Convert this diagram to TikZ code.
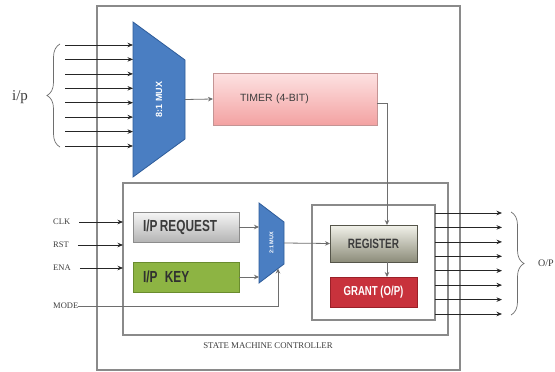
\documentclass[tikz,border=0pt]{standalone}
\usepackage{fontspec}
\setmainfont{Liberation Serif}
\newfontfamily\boxfont{Liberation Sans}
\usetikzlibrary{arrows.meta,decorations.pathreplacing,calc,shadows}

\definecolor{muxblue}{HTML}{4A7EC2}
\definecolor{muxedge}{HTML}{2E5C9A}
\definecolor{timertop}{HTML}{FDE2E2}
\definecolor{timerbot}{HTML}{F3A2A2}
\definecolor{timeredge}{HTML}{C49494}
\definecolor{reqtop}{HTML}{F6F6F6}
\definecolor{reqbot}{HTML}{B4B4B4}
\definecolor{reqedge}{HTML}{8C8C8C}
\definecolor{keygreen}{HTML}{8DB443}
\definecolor{keyedge}{HTML}{6A8C2E}
\definecolor{regtop}{HTML}{F2F2EA}
\definecolor{regbot}{HTML}{8C8C7A}
\definecolor{regedge}{HTML}{55554A}
\definecolor{grantred}{HTML}{C8323C}
\definecolor{grantedge}{HTML}{9A2028}
\definecolor{framegray}{HTML}{8A8A8A}
\definecolor{wiregray}{HTML}{6E6E6E}
\definecolor{labelgray}{HTML}{3C3C3C}

\tikzset{
  frame/.style={draw=framegray, line width=1.4pt, inner sep=0pt, outer sep=0pt},
  block/.style={inner sep=0pt, outer sep=0pt, line width=0.9pt,
    drop shadow={shadow xshift=1.2pt, shadow yshift=-1.2pt, opacity=0.25}},
  ghost/.style={inner sep=0pt, outer sep=0pt},
  inarrow/.style={draw=black!85, line width=0.7pt, -{Stealth[length=5.5pt,width=4.5pt]}},
  intarrow/.style={draw=wiregray, line width=0.8pt, -{Stealth[length=5pt,width=4.5pt]}},
  pinlabel/.style={font=\fontsize{8.5}{9}\selectfont, text=labelgray, inner sep=0pt, anchor=west},
  brc/.style={draw=wiregray, line width=0.7pt, decorate,
    decoration={brace, amplitude=13pt}},
}

% tall, narrow sans lettering used inside the blocks
\newcommand{\condensed}[2]{\scalebox{0.74}[1]{\boxfont\bfseries\fontsize{#1}{#1}\selectfont #2}}

\begin{document}
\begin{tikzpicture}[x=1pt, y=-1pt]
  \useasboundingbox (0,0) rectangle (555,372);

  % frames
  \node[frame, minimum width=363pt, minimum height=364pt] (outer) at (278.5,188) {};
  \node[frame, minimum width=325pt, minimum height=152pt] (inner) at (285.5,259) {};
  \node[frame, minimum width=123pt, minimum height=115pt] (reggrp) at (373.5,262.5) {};

  % 8:1 multiplexer
  \node[ghost, minimum width=52pt, minimum height=155pt] (mux8) at (159,99.5) {};
  \fill[muxblue, draw=muxedge, line width=0.8pt]
    (mux8.north west) -- ($(mux8.north east)+(0,38)$)
    -- ($(mux8.south east)+(0,-38)$) -- (mux8.south west) -- cycle;
  \node[rotate=90, text=white, font=\boxfont\bfseries\fontsize{9}{9}\selectfont] (mux8txt)
    at (mux8.center) {8:1 MUX};

  % 2:1 multiplexer
  \node[ghost, minimum width=25pt, minimum height=80pt] (mux2) at (271.5,243) {};
  \fill[muxblue, draw=muxedge, line width=0.8pt]
    (mux2.north west) -- ($(mux2.north east)+(0,19)$)
    -- ($(mux2.south east)+(0,-19)$) -- (mux2.south west) -- cycle;
  \node[rotate=90, text=white, font=\boxfont\bfseries\fontsize{5.5}{6}\selectfont] (mux2txt)
    at (mux2.center) {2:1 MUX};
  \coordinate (mux2sel) at ($(mux2.south east)+(-6,-14.5)$);

  % timer
  \node[block, draw=timeredge, top color=timertop, bottom color=timerbot,
        minimum width=164pt, minimum height=52pt, text width=110pt, align=left,
        inner xsep=27pt, text=labelgray,
        font=\boxfont\fontsize{10.5}{11}\selectfont] (timer) at (295,99) {TIMER (4-BIT)};

  % request and key blocks
  \node[block, draw=reqedge, top color=reqtop, bottom color=reqbot,
        minimum width=106pt, minimum height=30pt, text width=86pt, inner xsep=10pt,
        align=left, text=labelgray] (request) at (186,227) {\condensed{16}{I/P REQUEST}};
  \node[block, draw=keyedge, fill=keygreen,
        minimum width=106pt, minimum height=30pt, text width=86pt, inner xsep=10pt,
        align=left, text=labelgray!80!black] (key) at (186,277) {\condensed{16}{I/P\ \ \ KEY}};

  % register and grant
  \node[block, draw=regedge, top color=regtop, bottom color=regbot,
        minimum width=87pt, minimum height=37pt, text=labelgray]
        (register) at (373.5,243.5) {\condensed{13.5}{REGISTER}};
  \node[block, draw=grantedge, fill=grantred,
        minimum width=87pt, minimum height=30pt, text=white]
        (grant) at (373.5,292) {\condensed{13}{GRANT (O/P)}};

  \node[font=\fontsize{8.8}{9}\selectfont, text=labelgray, inner sep=0pt]
    (smc) at (268,346) {STATE MACHINE CONTROLLER};

  % parallel inputs into the 8:1 mux
  \foreach \i/\y in {1/45,2/59.4,3/73.9,4/88.3,5/102.7,6/117.1,7/131.6,8/146}{
    \coordinate (in\i) at (65,\y);
    \draw[inarrow] (in\i) -- (in\i -| mux8.west);
  }
  \draw[brc] (60,147) -- (60,44);
  \node[font=\fontsize{15}{15}\selectfont, text=labelgray, inner sep=0pt] (ip) at (20,97) {i/p};

  % parallel outputs from the register group
  \foreach \i/\y in {1/213,2/227.4,3/241.9,4/256.3,5/270.7,6/285.1,7/299.6,8/314}{
    \coordinate (out\i) at (502,\y);
    \draw[inarrow] (out\i -| reggrp.east) -- (out\i);
  }
  \draw[brc] (511,212) -- (511,315);
  \node[font=\fontsize{10}{10}\selectfont, text=labelgray, inner sep=0pt, anchor=west]
    (op) at (538,263) {O/P};

  % control pins
  \node[pinlabel] (clk) at (53,222) {CLK};
  \node[pinlabel] (rst) at (53,245) {RST};
  \node[pinlabel] (ena) at (53,268) {ENA};
  \node[pinlabel] (mode) at (53,306) {MODE};
  \draw[inarrow] ($(clk.east)+(9,0)$) -- (clk.east -| inner.west);
  \draw[inarrow] ($(rst.east)+(9,0)$) -- (rst.east -| inner.west);
  \draw[inarrow] ($(ena.east)+(9,0)$) -- (ena.east -| inner.west);
  \draw[intarrow] (mode.east) -| (mux2sel);

  % internal data path
  \draw[intarrow] (mux8.east) -- (timer.west);
  \draw[intarrow] ($(timer.east)+(0,4)$) -| ($(register.north)+(13.5,0)$);
  \draw[intarrow] (request.east) -- (request.east -| mux2.west);
  \draw[intarrow] (key.east) -- (key.east -| mux2.west);
  \draw[intarrow] (mux2.east) -- (register.west);
  \draw[intarrow] ($(register.south)+(13.5,0)$) -- ($(grant.north)+(13.5,0)$);
\end{tikzpicture}
\end{document}
